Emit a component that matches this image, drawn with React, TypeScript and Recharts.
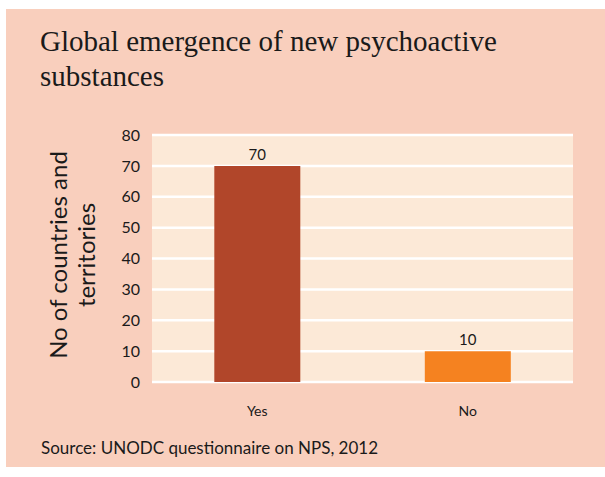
import { Bar, BarChart, CartesianGrid, Cell, LabelList, XAxis, YAxis } from "recharts";

const CATEGORIES = ["Yes", "No"];
const COUNTS = [70, 10];
const BAR_COLORS = ["#B1462A", "#F58220"];
const Y_TICKS = [0, 10, 20, 30, 40, 50, 60, 70, 80];

const rows = CATEGORIES.map((c, i) => ({ name: c, value: COUNTS[i] }));

const BOX_BG = "#F9CFBD";
const PLOT_BG = "#FCE9D7";
const SANS = "Lato, 'Open Sans', sans-serif";

/** 세로 축 제목 — 두 줄 회전 텍스트 */
function AxisTitle() {
  const cy = 246;
  return (
    <g fill="#1a1a1a" fontFamily={SANS} fontSize={24}>
      <text x={51} y={cy} transform={`rotate(-90 51 ${cy})`} textAnchor="middle" dominantBaseline="central">
        No of countries and
      </text>
      <text x={79} y={cy} transform={`rotate(-90 79 ${cy})`} textAnchor="middle" dominantBaseline="central">
        territories
      </text>
    </g>
  );
}

export default function App() {
  return (
    <div
      style={{
        position: "absolute",
        left: 6,
        top: 9,
        width: 599,
        height: 458,
        background: BOX_BG,
      }}
    >
      <div
        style={{
          position: "absolute",
          left: 34,
          top: 15,
          width: 456,
          fontFamily: "'Liberation Serif', serif",
          fontSize: 29,
          lineHeight: "35px",
          color: "#1a1a1a",
        }}
      >
        <div style={{ textAlign: "justify", textAlignLast: "justify", whiteSpace: "nowrap" }}>
          Global emergence of new psychoactive
        </div>
        <div>substances</div>
      </div>

      <div style={{ position: "absolute", left: 0, top: 0 }}>
        <BarChart
          width={599}
          height={458}
          data={rows}
          margin={{ top: 126, right: 32, bottom: 55, left: 106 }}
          barCategoryGap="29.6%"
        >
          <CartesianGrid vertical={false} stroke="#ffffff" strokeWidth={2.5} fill={PLOT_BG} />
          <XAxis
            dataKey="name"
            axisLine={false}
            tickLine={false}
            tickMargin={18}
            height={30}
            tick={{ fill: "#1a1a1a", fontSize: 14, fontFamily: SANS }}
          />
          <YAxis
            domain={[0, 80]}
            ticks={Y_TICKS}
            width={40}
            axisLine={false}
            tickLine={false}
            tickMargin={6}
            interval={0}
            tick={{ fill: "#1a1a1a", fontSize: 16, fontFamily: SANS }}
          />
          <Bar dataKey="value" isAnimationActive={false}>
            {rows.map((r, i) => (
              <Cell key={r.name} fill={BAR_COLORS[i]} />
            ))}
            <LabelList dataKey="value" position="top" offset={6} fill="#1a1a1a" fontSize={15} fontFamily={SANS} />
          </Bar>
        </BarChart>
      </div>

      <svg style={{ position: "absolute", left: 0, top: 0, pointerEvents: "none" }} width={599} height={458}>
        <AxisTitle />
      </svg>

      <div
        style={{
          position: "absolute",
          left: 35,
          top: 428,
          fontFamily: SANS,
          fontSize: 17,
          color: "#1a1a1a",
        }}
      >
        Source: UNODC questionnaire on NPS, 2012
      </div>
    </div>
  );
}
